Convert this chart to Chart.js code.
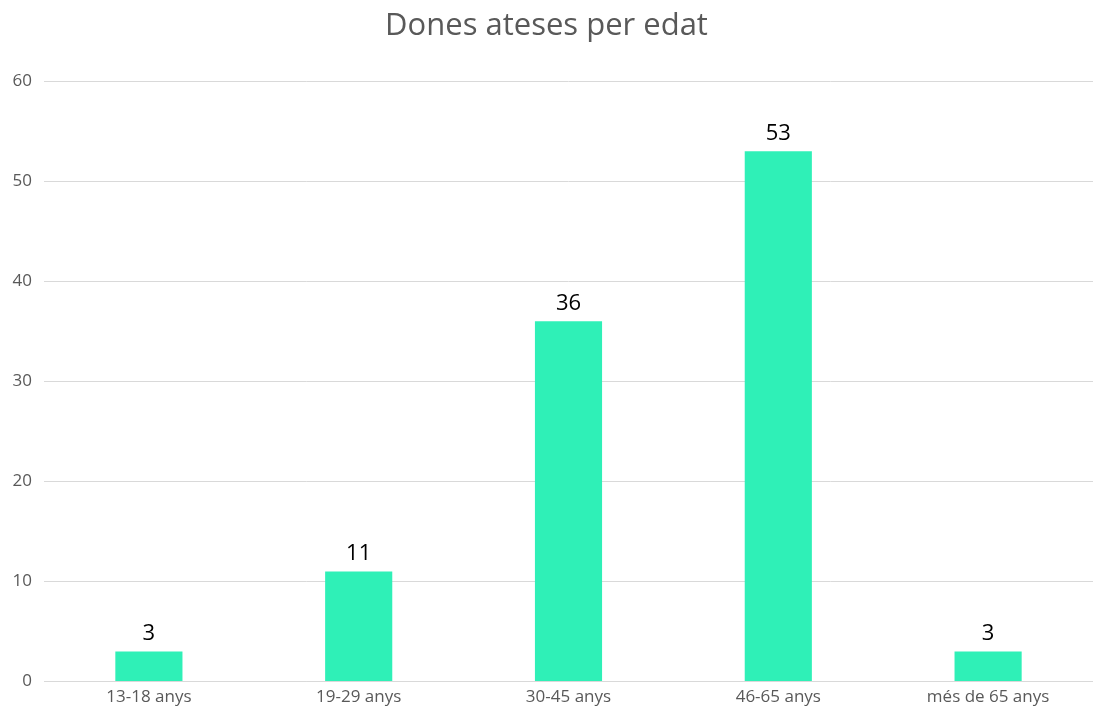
<!DOCTYPE html>
<html>
<head>
<meta charset="utf-8">
<script src="https://cdn.jsdelivr.net/npm/chart.js@4"></script>
<style>
  html, body { margin: 0; padding: 0; background: #fff; }
  #wrap { width: 1093px; height: 712px; }
</style>
</head>
<body>
<div id="wrap"><canvas id="myChart"></canvas></div>
<script>
const categories = ['13-18 anys', '19-29 anys', '30-45 anys', '46-65 anys', 'més de 65 anys'];
const values = [3, 11, 36, 53, 3];
const yTicks = [0, 10, 20, 30, 40, 50, 60];

const FONT = "'Open Sans', 'Liberation Sans', sans-serif";

// labels on top of the bars
const barLabels = {
  id: 'barLabels',
  afterDatasetsDraw(chart) {
    const c = chart.ctx;
    const meta = chart.getDatasetMeta(0);
    c.save();
    c.font = '22px ' + FONT;
    c.fillStyle = '#000';
    c.textAlign = 'center';
    c.textBaseline = 'bottom';
    meta.data.forEach((bar, i) => {
      c.fillText(values[i], bar.x, bar.y - 7);
    });
    c.restore();
  }
};

new Chart(document.getElementById('myChart'), {
  type: 'bar',
  data: {
    labels: categories,
    datasets: [{
      data: values,
      backgroundColor: '#2ff0b7',
      categoryPercentage: 1,
      barPercentage: 0.32
    }]
  },
  plugins: [barLabels],
  options: {
    responsive: true,
    maintainAspectRatio: false,
    animation: false,
    layout: { padding: { left: 0, right: 0, top: 8, bottom: 0 } },
    plugins: {
      legend: { display: false },
      tooltip: { enabled: false },
      title: {
        display: true,
        text: 'Dones ateses per edat',
        color: '#595959',
        font: { family: FONT, size: 31, weight: 'normal' },
        padding: { top: 0, bottom: 36 }
      }
    },
    scales: {
      x: {
        grid: { display: false, drawTicks: false },
        border: { color: '#d9d9d9' },
        ticks: { color: '#595959', font: { family: FONT, size: 17 }, padding: 5, maxRotation: 0 }
      },
      y: {
        min: 0,
        max: 60,
        afterBuildTicks(axis) { axis.ticks = yTicks.map(v => ({ value: v })); },
        afterFit(axis) { axis.width = 44; },
        grid: { color: '#d9d9d9', drawTicks: false },
        border: { display: false },
        ticks: { color: '#595959', font: { family: FONT, size: 17 }, padding: 12 }
      }
    }
  }
});
</script>
</body>
</html>
